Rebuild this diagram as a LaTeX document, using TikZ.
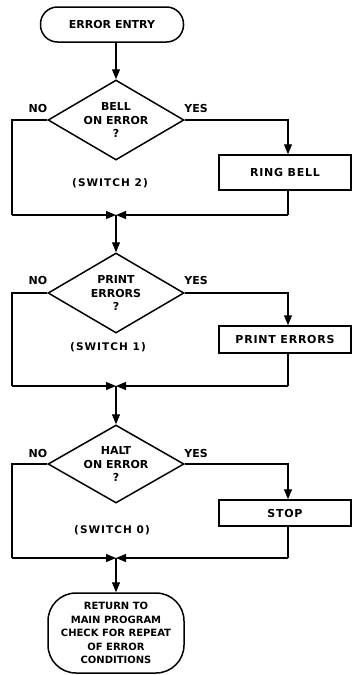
\documentclass[tikz,border=0pt]{standalone}
\usepackage{fontspec}
\setmainfont{DejaVu Sans}
\newfontfamily\bxfont{DejaVu Sans}[LetterSpace=7]
\newfontfamily\swfont{DejaVu Sans}[LetterSpace=10]
\usetikzlibrary{shapes.geometric,arrows.meta}
\begin{document}
\begin{tikzpicture}[x=1pt,y=-1pt,
  ln/.style={line width=1.2pt},
  arr/.style={line width=1.2pt,-{Triangle[length=10pt,width=8pt]}},
  pfont/.style={font=\bfseries\fontsize{11}{13.5}\selectfont},
  bfont/.style={font=\bxfont\bfseries\fontsize{11}{13.5}\selectfont},
  term/.style={draw,line width=1.5pt,rounded corners=17pt,minimum width=143pt,minimum height=35pt,inner sep=0pt,pfont},
  endterm/.style={draw,line width=1.5pt,rounded corners=28pt,minimum width=136pt,minimum height=80pt,inner sep=0pt,align=center,font=\bfseries\fontsize{10}{13.5}\selectfont},
  decision/.style={draw,diamond,line width=1.5pt,aspect=1.7,minimum width=136pt,minimum height=80pt,inner sep=0pt,align=center,pfont},
  proc/.style={draw,rectangle,line width=1.5pt,minimum width=132pt,inner sep=0pt,bfont},
  lbl/.style={inner sep=0pt,pfont},
  swl/.style={inner sep=0pt,font=\swfont\bfseries\fontsize{10.5}{13}\selectfont}
]
\useasboundingbox (0,0) rectangle (352,675);
\fill[white] (0,0) rectangle (352,675);

% nodes
\node[term] (entry) at (112,24.5) {ERROR ENTRY};
\node[decision] (d1) at (116,120) {BELL\\ON ERROR\\?};
\node[proc,minimum height=35pt] (ring) at (285,172.5) {RING BELL};
\node[decision] (d2) at (116,293) {PRINT\\ERRORS\\?};
\node[proc,minimum height=27pt] (print) at (285,339.5) {PRINT ERRORS};
\node[decision,minimum height=78pt] (d3) at (116,464) {HALT\\ON ERROR\\?};
\node[proc,minimum height=26pt] (stop) at (285,513) {STOP};
\node[endterm] (ret) at (116,633) {RETURN TO\\MAIN PROGRAM\\CHECK FOR REPEAT\\OF ERROR\\CONDITIONS};

% labels
\node[lbl] (no1) at (38,108) {NO};
\node[lbl] (yes1) at (196,108) {YES};
\node[swl] (sw2) at (110,183) {(SWITCH 2)};
\node[lbl] (no2) at (38,280) {NO};
\node[lbl] (yes2) at (196,280) {YES};
\node[swl] (sw1) at (108,347) {(SWITCH 1)};
\node[lbl] (no3) at (38,453) {NO};
\node[lbl] (yes3) at (196,453) {YES};
\node[swl] (sw0) at (112,530) {(SWITCH 0)};

% helper coordinates
\coordinate (m1) at (116,215);
\coordinate (m2) at (116,386);
\coordinate (m3) at (116,558);
\coordinate (l1) at (12,215);
\coordinate (l2) at (12,386);
\coordinate (l3) at (12,558);
\coordinate (r1) at (288,215);
\coordinate (r2) at (288,386);
\coordinate (r3) at (288,558);

% connectors
\draw[arr] (entry.south -| d1.north) -- (d1.north);

\draw[ln] (d1.west) -| (l1);
\draw[arr] (l1) -- (m1);
\draw[arr] (d1.east) -| (ring.north -| r1);
\draw[ln] (ring.south -| r1) -- (r1);
\draw[arr] (r1) -- (m1);
\draw[arr] (m1) -- (d2.north);

\draw[ln] (d2.west) -| (l2);
\draw[arr] (l2) -- (m2);
\draw[arr] (d2.east) -| (print.north -| r2);
\draw[ln] (print.south -| r2) -- (r2);
\draw[arr] (r2) -- (m2);
\draw[arr] (m2) -- (d3.north);

\draw[ln] (d3.west) -| (l3);
\draw[arr] (l3) -- (m3);
\draw[arr] (d3.east) -| (stop.north -| r3);
\draw[ln] (stop.south -| r3) -- (r3);
\draw[arr] (r3) -- (m3);
\draw[arr] (m3) -- (ret.north);
\end{tikzpicture}
\end{document}
